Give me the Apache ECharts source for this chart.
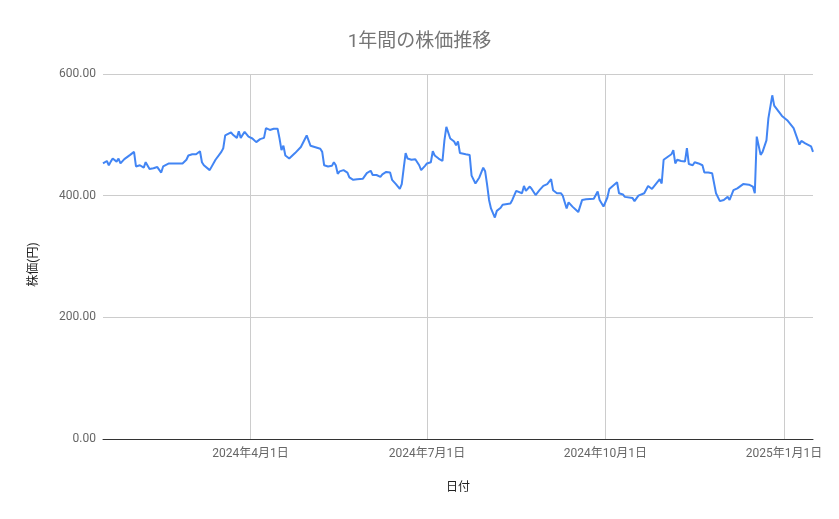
<!DOCTYPE html>
<html>
<head>
<meta charset="utf-8">
<script src="https://cdn.jsdelivr.net/npm/echarts@6/dist/echarts.min.js"></script>
<style>
html,body{margin:0;padding:0;background:#fff;}
#main{width:839px;height:519px;}
</style>
</head>
<body>
<div id="main"></div>
<script>
const titleText = '1年間の株価推移';
const xAxisName = '日付';
const yAxisName = '株価(円)';
const xTickDates = ['2024-04-01', '2024-07-01', '2024-10-01', '2025-01-01'];
const yTicks = [0, 200, 400, 600];
const xRange = ['2024-01-16', '2025-01-16'];

const dates = [
'2024-01-16','2024-01-17','2024-01-18','2024-01-19','2024-01-20','2024-01-21','2024-01-23','2024-01-24','2024-01-25','2024-01-27',
'2024-01-30','2024-02-01','2024-02-02','2024-02-04','2024-02-05','2024-02-06','2024-02-07','2024-02-08','2024-02-09','2024-02-11',
'2024-02-13','2024-02-14','2024-02-15','2024-02-16','2024-02-17','2024-02-19','2024-02-20','2024-02-22','2024-02-26','2024-02-28',
'2024-02-29','2024-03-02','2024-03-04','2024-03-06','2024-03-07','2024-03-08','2024-03-11','2024-03-14','2024-03-17','2024-03-18',
'2024-03-19','2024-03-20','2024-03-22','2024-03-23','2024-03-25','2024-03-26','2024-03-27','2024-03-29','2024-03-31','2024-04-02',
'2024-04-04','2024-04-06','2024-04-08','2024-04-09','2024-04-11','2024-04-13','2024-04-15','2024-04-16','2024-04-17','2024-04-18',
'2024-04-19','2024-04-21','2024-04-22','2024-04-24','2024-04-25','2024-04-27','2024-04-30','2024-05-02','2024-05-03','2024-05-07',
'2024-05-08','2024-05-09','2024-05-11','2024-05-13','2024-05-14','2024-05-15','2024-05-16','2024-05-17','2024-05-19','2024-05-21',
'2024-05-22','2024-05-23','2024-05-24','2024-05-26','2024-05-27','2024-05-29','2024-05-30','2024-05-31','2024-06-02','2024-06-03',
'2024-06-05','2024-06-07','2024-06-08','2024-06-10','2024-06-12','2024-06-13','2024-06-15','2024-06-17','2024-06-18','2024-06-19',
'2024-06-20','2024-06-21','2024-06-23','2024-06-24','2024-06-25','2024-06-27','2024-06-28','2024-06-30','2024-07-01','2024-07-03',
'2024-07-04','2024-07-05','2024-07-07','2024-07-09','2024-07-10','2024-07-11','2024-07-13','2024-07-15','2024-07-16','2024-07-17',
'2024-07-18','2024-07-21','2024-07-23','2024-07-24','2024-07-26','2024-07-28','2024-07-30','2024-07-31','2024-08-01','2024-08-02',
'2024-08-03','2024-08-05','2024-08-06','2024-08-08','2024-08-09','2024-08-13','2024-08-14','2024-08-16','2024-08-19','2024-08-20',
'2024-08-21','2024-08-23','2024-08-24','2024-08-26','2024-08-28','2024-08-29','2024-08-30','2024-09-01','2024-09-03','2024-09-04',
'2024-09-06','2024-09-08','2024-09-09','2024-09-11','2024-09-12','2024-09-14','2024-09-17','2024-09-19','2024-09-21','2024-09-25',
'2024-09-27','2024-09-28','2024-09-30','2024-10-02','2024-10-03','2024-10-04','2024-10-07','2024-10-08','2024-10-10','2024-10-11',
'2024-10-15','2024-10-16','2024-10-18','2024-10-21','2024-10-23','2024-10-25','2024-10-26','2024-10-29','2024-10-30','2024-10-31',
'2024-11-01','2024-11-04','2024-11-05','2024-11-06','2024-11-07','2024-11-09','2024-11-11','2024-11-12','2024-11-13','2024-11-15',
'2024-11-16','2024-11-18','2024-11-20','2024-11-21','2024-11-23','2024-11-25','2024-11-27','2024-11-28','2024-11-29','2024-12-01',
'2024-12-02','2024-12-03','2024-12-04','2024-12-05','2024-12-06','2024-12-08','2024-12-11','2024-12-12','2024-12-14','2024-12-16',
'2024-12-17','2024-12-18','2024-12-20','2024-12-21','2024-12-23','2024-12-24','2024-12-25','2024-12-26','2024-12-27','2024-12-31',
'2025-01-03','2025-01-06','2025-01-07','2025-01-09','2025-01-10','2025-01-12','2025-01-15','2025-01-16'
];

const prices = [
453,450,457,450,456,461,456,461,453,460,
467,472,448,450,452,446,455,454,444,445,
447,444,438,448,449,453,450,453,453,459,
466,468,468,473,455,450,442,459,472,478,
499,497,504,500,495,506,495,505,497,494,
488,493,495,511,508,510,510,494,475,482,
466,461,462,470,467,480,499,482,479,477,
472,450,448,449,455,450,436,440,442,438,
430,432,426,427,430,428,430,437,441,434,
434,431,435,439,438,426,419,411,419,445,
470,461,459,456,460,450,442,449,453,455,
473,466,461,457,491,513,494,489,483,489,
470,468,467,433,420,430,446,440,418,393,
379,364,375,380,385,387,393,408,404,416,
408,415,411,401,409,408,416,419,427,409,
404,404,400,379,389,382,373,393,394,395,
407,393,382,397,411,408,422,404,402,398,
396,391,400,404,416,411,413,427,420,459,
460,468,475,453,459,457,456,478,452,450,
455,453,450,438,438,437,404,401,391,393,
395,398,393,394,409,412,419,420,418,415,
404,497,467,472,491,527,530,565,548,531,
523,511,508,484,490,486,481,472
];

const toTime = d => new Date(d + 'T00:00:00').getTime();
const seriesData = dates.map((d, i) => [toTime(d), prices[i]]);
const tickTimes = xTickDates.map(toTime);
const fontFam = "Roboto, 'Noto Sans CJK JP', sans-serif";

const chart = echarts.init(document.getElementById('main'));
chart.setOption({
  animation: false,
  backgroundColor: '#ffffff',
  title: {
    text: titleText,
    left: 'center',
    top: 28,
    textStyle: { color: '#757575', fontSize: 19, fontWeight: 'normal', fontFamily: fontFam }
  },
  grid: { left: 103, right: 26, top: 74, bottom: 80 },
  xAxis: {
    type: 'value',
    min: toTime(xRange[0]),
    max: toTime(xRange[1]),
    name: xAxisName,
    nameLocation: 'middle',
    nameGap: 43,
    nameTextStyle: { color: '#222', fontSize: 12, fontFamily: fontFam },
    axisLine: { show: true, onZero: false, lineStyle: { color: '#333', width: 1 } },
    axisTick: { show: false, customValues: tickTimes },
    axisLabel: {
      customValues: tickTimes,
      color: '#666',
      fontSize: 12,
      margin: 9,
      fontFamily: fontFam,
      formatter: function (v) {
        const d = new Date(v);
        return d.getFullYear() + '年' + (d.getMonth() + 1) + '月' + d.getDate() + '日';
      }
    },
    splitLine: { show: true, lineStyle: { color: '#cccccc', width: 1 } }
  },
  yAxis: {
    type: 'value',
    min: yTicks[0],
    max: yTicks[yTicks.length - 1],
    interval: 200,
    name: yAxisName,
    nameLocation: 'middle',
    nameGap: 63,
    nameTextStyle: { color: '#222', fontSize: 12, fontFamily: fontFam, padding: [0, 16, 0, 0] },
    axisLine: { show: false },
    axisTick: { show: false },
    axisLabel: {
      color: '#666',
      fontSize: 12,
      margin: 7,
      fontFamily: fontFam,
      formatter: v => v.toFixed(2)
    },
    splitLine: { show: true, lineStyle: { color: '#cccccc', width: 1 } }
  },
  series: [{
    type: 'line',
    data: seriesData,
    showSymbol: false,
    symbol: 'none',
    lineStyle: { color: '#4285F4', width: 2 },
    itemStyle: { color: '#4285F4' },
    z: 3
  }]
});
</script>
</body>
</html>
